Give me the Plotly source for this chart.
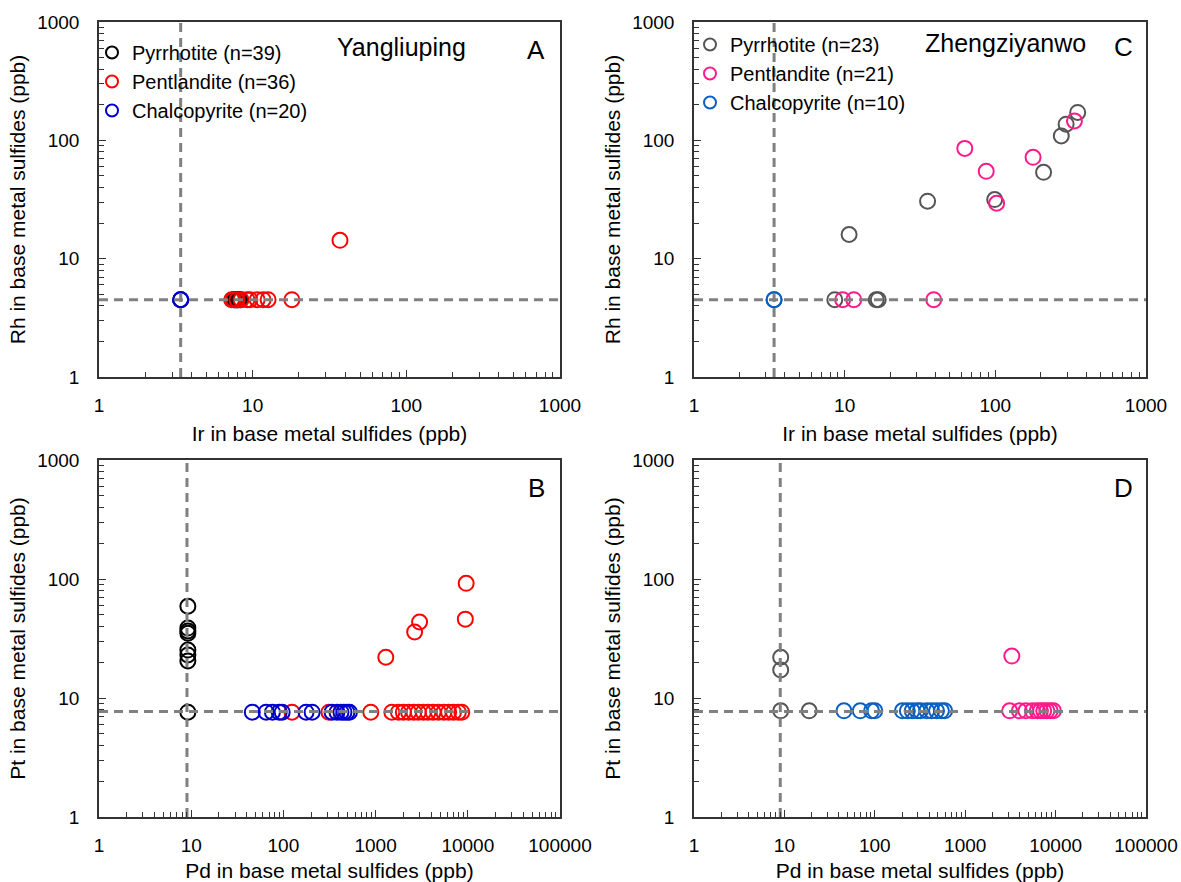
import plotly.graph_objects as go

# ---- Yangliuping: Ir vs Rh (ppb) ----
ylp_po_ir = [7.6, 7.7, 7.8, 7.9, 8.0, 8.1, 8.3]
ylp_po_rh = [4.5, 4.5, 4.5, 4.5, 4.5, 4.5, 4.5]
ylp_pn_ir = [7.3, 7.5, 7.9, 8.4, 9.2, 9.6, 10.7, 11.7, 12.6, 18.0, 37.0]
ylp_pn_rh = [4.5, 4.5, 4.5, 4.5, 4.5, 4.5, 4.5, 4.5, 4.5, 4.5, 14.3]
ylp_cp_ir = [3.4, 3.4, 3.4]
ylp_cp_rh = [4.5, 4.5, 4.5]

# ---- Yangliuping: Pd vs Pt (ppb) ----
ylp_po_pd = [9.2, 9.2, 9.2, 9.2, 9.2, 9.2, 9.2, 9.2]
ylp_po_pt = [59, 38.7, 36.6, 35, 25.3, 23, 20.5, 7.6]
ylp_cp_pd = [46, 65, 76, 90, 97, 176, 205, 337, 381, 421, 454, 489, 520]
ylp_cp_pt = [7.6] * 13
ylp_pn_pd = [124, 312, 887, 1500, 1770, 2000, 2280, 2600, 2900, 3300, 3700,
             4200, 4800, 5500, 6200, 7000, 7900, 8600,
             1290, 2650, 3000, 9400, 9600]
ylp_pn_pt = [7.6] * 18 + [22, 35.9, 43.5, 46, 92]

# ---- Zhengziyanwo: Ir vs Rh (ppb) ----
zzy_po_ir = [352, 295, 274, 209, 99, 35.5, 10.7, 8.6, 16.2, 16.7]
zzy_po_rh = [172, 137, 109, 53.7, 31.6, 30.6, 16, 4.5, 4.5, 4.5]
zzy_pn_ir = [335, 62.7, 87, 178, 102, 9.7, 11.5, 39]
zzy_pn_rh = [146, 85.5, 54.7, 71.8, 29.4, 4.5, 4.5, 4.5]
zzy_cp_ir = [3.4, 3.4]
zzy_cp_rh = [4.5, 4.5]

# ---- Zhengziyanwo: Pd vs Pt (ppb) ----
zzy_po_pd = [9.1, 9.1, 9.1, 18.8]
zzy_po_pt = [22, 17.2, 7.8, 7.8]
zzy_cp_pd = [45.6, 69, 92, 100, 202, 229, 259, 294, 319, 376, 426, 482, 546, 593]
zzy_cp_pt = [7.8] * 14
zzy_pn_pd = [3280, 3100, 3970, 4690, 5530, 6260, 6800, 7390, 8020, 8730, 9470]
zzy_pn_pt = [22.5] + [7.8] * 10

# detection limits (dashed reference lines)
ylp_limits = {"ir": 3.4, "rh": 4.5, "pd": 9.0, "pt": 7.7}
zzy_limits = {"ir": 3.4, "rh": 4.5, "pd": 9.0, "pt": 7.7}

legend_labels_ylp = ["Pyrrhotite (n=39)", "Pentlandite (n=36)", "Chalcopyrite (n=20)"]
legend_labels_zzy = ["Pyrrhotite (n=23)", "Pentlandite (n=21)", "Chalcopyrite (n=10)"]

ylp_colors = {"po": "#000000", "pn": "#ff0000", "cp": "#0000cc"}
zzy_colors = {"po": "#555555", "pn": "#ff1a8c", "cp": "#0a5fc0"}

FONT = "Liberation Sans, Arial, sans-serif"
DASH = "#808080"

fig = go.Figure()


def add_points(x, y, color, xa, ya, name=None, legend=None):
    fig.add_trace(go.Scatter(
        x=x, y=y, mode="markers", xaxis=xa, yaxis=ya,
        marker=dict(symbol="circle-open", size=15, color=color,
                    line=dict(width=2, color=color)),
        name=name or "", showlegend=legend is not None,
        legend=legend or "legend", hoverinfo="x+y"))


def add_limits(xv, yv, xrange_, yrange_, xa, ya):
    style = dict(color=DASH, width=3, dash="9px,6px")
    fig.add_trace(go.Scatter(x=[xv, xv], y=list(yrange_), mode="lines",
                             xaxis=xa, yaxis=ya, showlegend=False,
                             line=style, hoverinfo="skip"))
    fig.add_trace(go.Scatter(x=list(xrange_), y=[yv, yv], mode="lines",
                             xaxis=xa, yaxis=ya, showlegend=False,
                             line=style, hoverinfo="skip"))


# Panel A
add_points(ylp_po_ir, ylp_po_rh, ylp_colors["po"], "x", "y", legend_labels_ylp[0], "legend")
add_points(ylp_pn_ir, ylp_pn_rh, ylp_colors["pn"], "x", "y", legend_labels_ylp[1], "legend")
add_points(ylp_cp_ir, ylp_cp_rh, ylp_colors["cp"], "x", "y", legend_labels_ylp[2], "legend")
add_limits(ylp_limits["ir"], ylp_limits["rh"], (1, 1000), (1, 1000), "x", "y")

# Panel C
add_points(zzy_po_ir, zzy_po_rh, zzy_colors["po"], "x2", "y2", legend_labels_zzy[0], "legend2")
add_points(zzy_pn_ir, zzy_pn_rh, zzy_colors["pn"], "x2", "y2", legend_labels_zzy[1], "legend2")
add_points(zzy_cp_ir, zzy_cp_rh, zzy_colors["cp"], "x2", "y2", legend_labels_zzy[2], "legend2")
add_limits(zzy_limits["ir"], zzy_limits["rh"], (1, 1000), (1, 1000), "x2", "y2")

# Panel B
add_points(ylp_po_pd, ylp_po_pt, ylp_colors["po"], "x3", "y3")
add_points(ylp_pn_pd, ylp_pn_pt, ylp_colors["pn"], "x3", "y3")
add_points(ylp_cp_pd, ylp_cp_pt, ylp_colors["cp"], "x3", "y3")
add_limits(ylp_limits["pd"], ylp_limits["pt"], (1, 100000), (1, 1000), "x3", "y3")

# Panel D
add_points(zzy_po_pd, zzy_po_pt, zzy_colors["po"], "x4", "y4")
add_points(zzy_cp_pd, zzy_cp_pt, zzy_colors["cp"], "x4", "y4")
add_points(zzy_pn_pd, zzy_pn_pt, zzy_colors["pn"], "x4", "y4")
add_limits(zzy_limits["pd"], zzy_limits["pt"], (1, 100000), (1, 1000), "x4", "y4")

W, H = 1181, 882
left_cols = (99 / W, 560 / W)
right_cols = (694 / W, 1146 / W)
top_row = (1 - 377 / H, 1 - 22 / H)
bot_row = (1 - 817 / H, 1 - 460 / H)

AX_LINE = "#333333"


def log_axis(decades, domain, anchor, title, is_x):
    vals = [10 ** k for k in range(decades + 1)]
    return dict(
        type="log", range=[0, decades], domain=domain, anchor=anchor,
        automargin=False, ticklabeloverflow="allow",
        tickvals=vals, ticktext=[str(v) for v in vals],
        ticks="inside", ticklen=7, tickwidth=1.2, tickcolor=AX_LINE,
        minor=dict(ticks="inside", ticklen=5, tickwidth=1, tickcolor=AX_LINE,
                   dtick="D1", showgrid=False),
        showline=True, linecolor=AX_LINE, linewidth=1.5, mirror=True,
        showgrid=False, zeroline=False,
        ticklabelstandoff=10 if is_x else 14,
        tickfont=dict(family=FONT, size=19, color="#000000"),
        title=dict(text=title, font=dict(family=FONT, size=21, color="#000000"),
                   standoff=12 if is_x else 6),
    )


fig.update_layout(
    width=W, height=H,
    margin=dict(l=0, r=0, t=0, b=0),
    paper_bgcolor="white", plot_bgcolor="white",
    xaxis=log_axis(3, left_cols, "y", "Ir in base metal sulfides (ppb)", True),
    yaxis=log_axis(3, top_row, "x", "Rh in base metal sulfides (ppb)", False),
    xaxis2=log_axis(3, right_cols, "y2", "Ir in base metal sulfides (ppb)", True),
    yaxis2=log_axis(3, top_row, "x2", "Rh in base metal sulfides (ppb)", False),
    xaxis3=log_axis(5, left_cols, "y3", "Pd in base metal sulfides (ppb)", True),
    yaxis3=log_axis(3, bot_row, "x3", "Pt in base metal sulfides (ppb)", False),
    xaxis4=log_axis(5, right_cols, "y4", "Pd in base metal sulfides (ppb)", True),
    yaxis4=log_axis(3, bot_row, "x4", "Pt in base metal sulfides (ppb)", False),
    legend=dict(x=92 / W, y=1 - 33 / H, xanchor="left", yanchor="top",
                bgcolor="rgba(0,0,0,0)", itemsizing="constant",
                font=dict(family=FONT, size=20, color="#000000")),
    legend2=dict(x=690 / W, y=1 - 25 / H, xanchor="left", yanchor="top",
                 bgcolor="rgba(0,0,0,0)", itemsizing="constant",
                 font=dict(family=FONT, size=20, color="#000000"),
                 tracegroupgap=0),
    showlegend=True,
)

labels = [
    ("Yangliuping", 401 / W, 1 - 47 / H, 25),
    ("A", 536 / W, 1 - 50 / H, 26),
    ("Zhengziyanwo", 1005 / W, 1 - 43 / H, 25),
    ("C", 1123 / W, 1 - 47 / H, 26),
    ("B", 536 / W, 1 - 488 / H, 26),
    ("D", 1123 / W, 1 - 488 / H, 26),
]
for text, x, y, size in labels:
    fig.add_annotation(text=text, x=x, y=y, xref="paper", yref="paper",
                       xanchor="center", yanchor="middle", showarrow=False,
                       font=dict(family=FONT, size=size, color="#000000"))

fig.write_html("out.html")
